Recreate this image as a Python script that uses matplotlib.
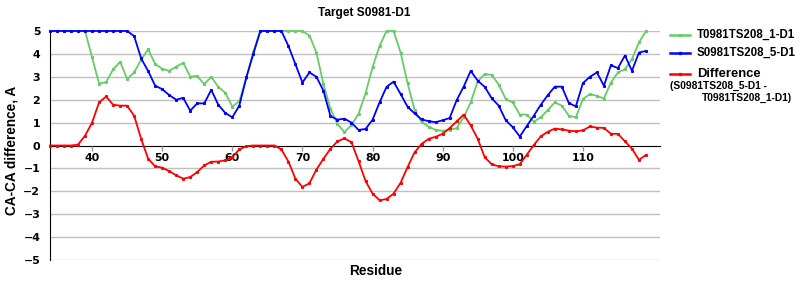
import numpy as np
import matplotlib
matplotlib.use("Agg")
import matplotlib.pyplot as plt
from matplotlib.lines import Line2D

# Residue numbers (one point per residue)
residues = list(range(34, 120))

# T0981TS208_1-D1 (green)
t0981 = [5, 5, 5, 5, 5, 5, 3.85, 2.7, 2.77, 3.32,
         3.66, 2.9, 3.19, 3.75, 4.2, 3.56, 3.35, 3.26, 3.44, 3.61,
         3.01, 3.03, 2.68, 3.0, 2.56, 2.3, 1.70, 1.93, 2.95, 4.1,
         5, 5, 5, 5, 5, 5, 5, 4.8, 4.06, 2.68,
         1.6, 0.94, 0.58, 0.9, 1.38, 2.28, 3.41, 4.35, 5.0, 5.0,
         4.06, 2.72, 1.55, 1.02, 0.82, 0.68, 0.64, 0.68, 0.76, 1.23,
         1.88, 2.8, 3.12, 3.08, 2.66, 2.03, 1.88, 1.35, 1.35, 1.04,
         1.23, 1.55, 1.88, 1.74, 1.30, 1.23, 2.03, 2.24, 2.17, 2.05,
         2.75, 3.19, 3.33, 3.77, 4.5, 5.0]

# S0981TS208_5-D1 (blue)
s0981 = [5, 5, 5, 5, 5, 5, 5, 5, 5, 5,
         5, 5, 4.78, 3.8, 3.25, 2.61, 2.46, 2.2, 2.0, 2.08,
         1.52, 1.84, 1.84, 2.43, 1.78, 1.42, 1.23, 1.74, 2.97, 4.0,
         5, 5, 5, 5, 4.35, 3.55, 2.75, 3.19, 3.0, 2.39,
         1.28, 1.13, 1.17, 1.0, 0.68, 0.72, 1.12, 1.88, 2.56, 2.79,
         2.25, 1.69, 1.4, 1.14, 1.06, 1.02, 1.1, 1.2, 1.98, 2.57,
         3.26, 2.83, 2.56, 2.06, 1.74, 1.1, 0.80, 0.39, 0.85, 1.3,
         1.78, 2.2, 2.57, 2.57, 1.85, 1.71, 2.72, 3.0, 3.19, 2.61,
         3.5, 3.38, 3.93, 3.26, 4.06, 4.13]

# Difference (S0981TS208_5-D1 - T0981TS208_1-D1), red
diff = [0, 0, 0, 0, 0.04, 0.43, 1.0, 1.88, 2.14, 1.78,
        1.74, 1.74, 1.3, 0.29, -0.58, -0.91, -0.97, -1.12, -1.30, -1.45,
        -1.38, -1.16, -0.87, -0.71, -0.70, -0.65, -0.51, -0.17, -0.03, 0,
        0, 0, 0, -0.17, -0.70, -1.45, -1.81, -1.65, -1.05, -0.58,
        -0.14, 0.18, 0.31, 0.14, -0.68, -1.55, -2.1, -2.39, -2.34, -2.1,
        -1.63, -0.94, -0.3, 0.07, 0.29, 0.38, 0.51, 0.76, 1.05, 1.35,
        0.88, 0.29, -0.51, -0.82, -0.91, -0.92, -0.9, -0.82, -0.4, 0.02,
        0.4, 0.6, 0.74, 0.70, 0.65, 0.62, 0.66, 0.83, 0.78, 0.77,
        0.51, 0.51, 0.18, -0.14, -0.63, -0.41]

x_ticks = [40, 50, 60, 70, 80, 90, 100, 110]
y_ticks = [5, 4, 3, 2, 1, 0, -1, -2, -3, -4, -5]

GREEN = "#66CC66"
BLUE = "#0000FF"
RED = "#FF0000"
LABEL_FONT = "Liberation Sans"
TICK_FONT = "DejaVu Sans"


def plot_chart(output_path):
    fig = plt.figure(figsize=(8, 3), dpi=100)
    W, H = 800.0, 300.0
    ax = fig.add_axes([50 / W, 40 / H, 610 / W, 229 / H])

    # gridlines behind data
    for yv in y_ticks:
        if yv != 0:
            ax.axhline(yv, color="#C0C0C0", lw=1.0, zorder=0)

    style = dict(lw=1.3, marker="s", markersize=1.2, clip_on=False)
    ax.plot(residues, t0981, color=GREEN, zorder=2, **style)
    ax.plot(residues, s0981, color=BLUE, zorder=3, **style)
    ax.plot(residues, diff, color=RED, zorder=4, **style)

    ax.set_xlim(34, 121)
    ax.set_ylim(-5, 5)

    # axis crossing at zero like the original
    ax.spines["top"].set_visible(False)
    ax.spines["right"].set_visible(False)
    ax.spines["bottom"].set_position(("data", 0))
    ax.spines["bottom"].set_color("black")
    ax.spines["bottom"].set_zorder(1)
    ax.spines["left"].set_color("black")

    ax.set_xticks(x_ticks)
    ax.set_yticks(y_ticks)
    ax.tick_params(axis="x", length=3.5, width=1, color="#999999", pad=2)
    ax.tick_params(axis="y", length=0, pad=7)
    for lab in ax.get_xticklabels() + ax.get_yticklabels():
        lab.set_fontfamily(TICK_FONT)
        lab.set_fontweight("bold")
        lab.set_fontsize(7.9)

    # title and axis labels
    fig.text(364 / W, 1 - 13 / H, "Target S0981-D1", ha="center", va="center",
             family=LABEL_FONT, weight="bold", fontsize=8.6)
    fig.text(376 / W, 1 - 271 / H, "Residue", ha="center", va="center",
             family=LABEL_FONT, weight="bold", fontsize=9.8)
    fig.text(12 / W, 1 - 150 / H, "CA-CA difference, A", ha="center", va="center",
             rotation=90, family=LABEL_FONT, weight="bold", fontsize=9.8)

    # legend, drawn by hand to get the two-size label of the difference series
    entries = [(35, GREEN, "T0981TS208_1-D1", 8.3),
               (53, BLUE, "S0981TS208_5-D1", 8.3),
               (74, RED, "Difference", 9.4)]
    for ypix, col, text, size in entries:
        yf = 1 - ypix / H
        fig.add_artist(Line2D([670 / W, 690 / W], [yf, yf], color=col, lw=1.8,
                              transform=fig.transFigure))
        fig.add_artist(Line2D([680 / W], [yf], color=col, marker="s", markersize=1.4,
                              transform=fig.transFigure))
        fig.text(697 / W, yf, text, ha="left", va="center",
                 family=LABEL_FONT, weight="bold", fontsize=size)
    fig.text(670 / W, 1 - 86 / H, "(S0981TS208_5-D1 -", ha="left", va="center",
             family=LABEL_FONT, weight="bold", fontsize=7.4)
    fig.text(702 / W, 1 - 98 / H, "T0981TS208_1-D1)", ha="left", va="center",
             family=LABEL_FONT, weight="bold", fontsize=7.4)

    fig.savefig(output_path, dpi=100)
    print("Chart saved as: {}".format(output_path))


def main():
    plot_chart("out.png")


if __name__ == "__main__":
    main()
